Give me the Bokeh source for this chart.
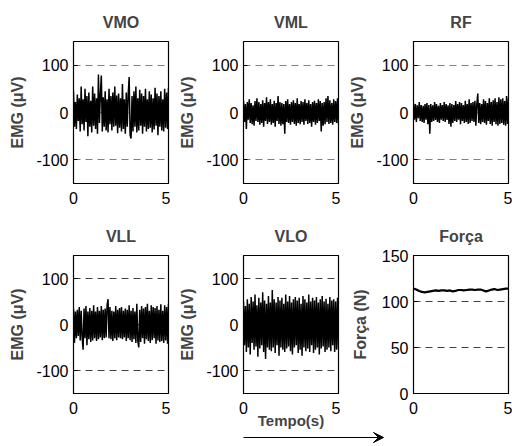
import numpy as np
from bokeh.plotting import figure
from bokeh.layouts import column, row
from bokeh.models import Range1d, FixedTicker, Arrow, VeeHead
from bokeh.embed import file_html
from bokeh.resources import INLINE

# ---------------- data ----------------
titles = ["VMO", "VML", "RF", "VLL", "VLO", "Força"]
emg_ticks = [-100, 0, 100]
emg_tick_labels = {-100: "-100", 0: "0", 100: "100"}
force_ticks = [0, 50, 100, 150]
time_ticks = [0, 5]
arrow_end_time = 7.37   # the time arrow runs past the VLO panel

vmo = [45, -30, 22, -35, 38, -18, 30, -40, 55, -25,
       28, -38, 50, -20, 35, -50, 42, -30, 25, -42,
       55, -28, 40, -35, 30, -45, 80, -22, 38, 78,
       -40, 32, -30, 45, -38, 28, -42, 50, -25, 35,
       -38, 42, -30, 55, -28, 36, -44, 40, -32, 30,
       -40, 60, -35, 28, -45, 42, -30, 38, 75, -48,
       -55, 35, -40, 45, -30, 55, -42, 30, -38, 48,
       -28, 40, -45, 35, -30, 50, -40, 28, -35, 45,
       -32, 38, -42, 30, -36, 52, -28, 40, -48, 35,
       -30, 45, -38, 28, -40, 50, -32, 42, -35, 52]

vml = [25, -20, 18, -35, 22, -15, 28, -22, 20, -25,
       15, -28, 24, -18, 30, -20, 22, -26, 18, -22,
       26, -30, 20, -18, 32, -24, 22, -20, 28, -26,
       18, -22, 25, -30, 20, -18, 35, -24, 22, -28,
       20, -25, 18, -45, 24, -20, 28, -22, 18, -26,
       22, -20, 26, -24, 20, -28, 30, -22, 18, -25,
       24, -20, 22, -26, 28, -18, 20, -24, 26, -22,
       18, -30, 22, -20, 25, -26, 20, -22, 28, -18,
       24, -40, 20, -28, 22, -25, 30, -20, 35, -24,
       26, -22, 20, -26, 28, -20, 24, -22, 30, -25]

rf = [20, -15, 18, -20, 15, -12, 22, -18, 16, -20,
      14, -22, 18, -15, 20, -25, 16, -45, 18, -20,
      15, -18, 22, -16, 18, -20, 14, -22, 20, -15,
      16, -18, 22, -20, 18, -16, 15, -24, 20, -30,
      18, -22, 16, -18, 24, -20, 18, -15, 22, -25,
      20, -18, 16, -22, 25, -20, 18, -24, 28, -22,
      20, -18, 22, -20, 25, -28, 18, 40, -22, 20,
      -25, 18, -20, 28, -22, 24, -26, 20, -18, 30,
      -24, 22, -28, 26, -20, 30, -25, 22, -28, 32,
      -24, 28, -22, 30, -26, 24, -28, 35, -24, 30]

vll = [35, -40, 28, -30, 32, -25, 38, -35, 30, -28,
       -55, 35, -30, 40, -45, 28, -32, 36, -38, 30,
       -35, 42, -30, 28, -36, 38, -32, 30, -28, 40,
       -34, 32, -30, 35, -28, 42, 55, -30, 38, -32,
       30, -36, 28, -30, 40, -34, 32, -28, 36, -30,
       38, -32, 30, -28, 35, -36, 32, -30, 42, -34,
       30, -38, 36, -32, 28, -40, 45, -35, -50, 32,
       -38, 40, -30, 35, -42, 38, -32, 45, -36, 30,
       -40, 42, -34, 38, -30, 36, -42, 40, -35, 32,
       -38, 44, -36, 30, -40, 42, -35, 38, -42, 45]

vlo = [50, -45, 40, -60, 55, -50, 45, -65, 60, -40,
       50, -55, 65, -48, 42, -70, 58, -52, 48, -45,
       70, -60, 52, -75, 45, -50, 62, -55, 48, -58,
       75, -50, 55, -62, 48, -45, 60, -68, 52, -50,
       58, -55, 45, -60, 65, -52, 50, -48, 62, -58,
       48, -65, 55, -50, 60, -45, 52, -62, 58, -55,
       45, -68, 62, -50, 55, -58, 48, -52, 65, -60,
       50, -45, 58, -62, 52, -55, 60, -50, 48, -65,
       55, -52, 62, -48, 50, -60, 56, -55, 45, -50,
       60, -58, 52, -45, 55, -60, 50, -55, 58, -52]

force = [114, 113, 111.5, 110.5, 110, 110.5, 111, 111.5, 112, 111.5,
         112, 112, 111.5, 112, 111, 111.5, 112.5, 112.5, 112, 112.5,
         113, 113, 112.5, 113, 113, 112, 111, 112, 113, 113.5,
         112.5, 113, 113.5, 114, 114]

duration = 5.0
FONT = "Liberation Sans"

FRAME_W = 95
FRAME_H = 145
LEFT = 73


def make_panel(title, values, width, height, top_border, bottom_border,
               ylabel, yrange, yticks, grid_color, tick_labels=None, xlabel=None,
               line_width=1.5, label_standoff=7):
    p = figure(width=width, height=height, output_backend="svg",
               toolbar_location=None,
               x_range=Range1d(0, duration), y_range=Range1d(*yrange),
               min_border_left=LEFT, min_border_right=width - LEFT - FRAME_W,
               min_border_top=top_border, min_border_bottom=bottom_border,
               background_fill_color="white", border_fill_color="white")
    p.title.text = title
    p.title.text_font = FONT
    p.title.text_font_size = "16px"
    p.title.text_font_style = "bold"
    p.title.align = "center"
    p.title.standoff = 22
    p.outline_line_color = "black"
    p.outline_line_width = 1.2

    t = np.linspace(0, duration, len(values))
    p.line(t, values, line_color="black", line_width=line_width)

    p.xgrid.visible = False
    p.ygrid.ticker = FixedTicker(ticks=yticks)
    p.ygrid.grid_line_color = grid_color
    p.ygrid.grid_line_dash = "7 5"
    p.ygrid.grid_line_width = 1

    for ax in p.xaxis:
        ax.ticker = FixedTicker(ticks=time_ticks)
        ax.major_tick_in = 0
        ax.major_tick_out = 0
        ax.minor_tick_in = 0
        ax.minor_tick_out = 0
        ax.major_label_text_font = FONT
        ax.major_label_text_font_size = "16px"
        ax.major_label_text_color = "black"
        ax.major_label_standoff = 8
        ax.axis_line_color = "black"
        if xlabel:
            ax.axis_label = xlabel
            ax.axis_label_text_font = FONT
            ax.axis_label_text_font_size = "15px"
            ax.axis_label_text_font_style = "bold"
            ax.axis_label_standoff = -5
    for ax in p.yaxis:
        ax.ticker = FixedTicker(ticks=yticks)
        if tick_labels:
            ax.major_label_overrides = tick_labels
        ax.major_tick_in = 4
        ax.major_tick_out = 0
        ax.minor_tick_in = 0
        ax.minor_tick_out = 0
        ax.major_label_text_font = FONT
        ax.major_label_text_font_size = "16px"
        ax.major_label_text_color = "black"
        ax.major_label_standoff = 5
        ax.axis_line_color = "black"
        ax.axis_label = ylabel
        ax.axis_label_text_font = FONT
        ax.axis_label_text_font_size = "16px"
        ax.axis_label_text_font_style = "bold"
        ax.axis_label_standoff = label_standoff
    return p


ylab = "EMG (μV)"
r1 = dict(height=214, top_border=38, bottom_border=214 - 38 - FRAME_H)
r2 = dict(height=217, top_border=38, bottom_border=217 - 38 - FRAME_H)
emg = dict(ylabel=ylab, yrange=(-150, 150), yticks=emg_ticks,
           tick_labels=emg_tick_labels)

p1 = make_panel(titles[0], vmo, 170, grid_color="#808080", **emg, **r1)
p2 = make_panel(titles[1], vml, 170, grid_color="#808080", **emg, **r1)
p3 = make_panel(titles[2], rf, 172, grid_color="#808080", **emg, **r1)
p4 = make_panel(titles[3], vll, 170, grid_color="#404040", **emg, **r2)
p5 = make_panel(titles[4], vlo, 170, grid_color="#404040", xlabel="Tempo(s)",
                **emg, **r2)
p6 = make_panel(titles[5], force, 172, ylabel="Força (N)", yrange=(0, 150),
                yticks=force_ticks, grid_color="#404040", line_width=2.2,
                label_standoff=10, **r2)

# thin strip below the bottom row carrying the time arrow, aligned with the
# VLO panel's time axis
vlo_left = 170 + LEFT
px_per_s = FRAME_W / duration
strip = figure(width=512, height=12, output_backend="svg", toolbar_location=None,
               x_range=Range1d(-vlo_left / px_per_s, (512 - vlo_left) / px_per_s),
               y_range=Range1d(0, 1), x_axis_location=None, y_axis_location=None,
               min_border=0, min_border_left=0, min_border_right=0,
               min_border_top=0, min_border_bottom=0,
               background_fill_color="white", border_fill_color="white")
strip.outline_line_color = None
strip.xgrid.visible = False
strip.ygrid.visible = False
strip.add_layout(Arrow(x_start=0, y_start=0.5, x_end=arrow_end_time, y_end=0.5,
                       line_color="black", line_width=1.2,
                       end=VeeHead(size=10, fill_color="black", line_color="black",
                                   line_width=1)))

layout = column(row(p1, p2, p3, spacing=0), row(p4, p5, p6, spacing=0), strip,
                spacing=0)

open("out.html", "w").write(file_html(layout, INLINE))
